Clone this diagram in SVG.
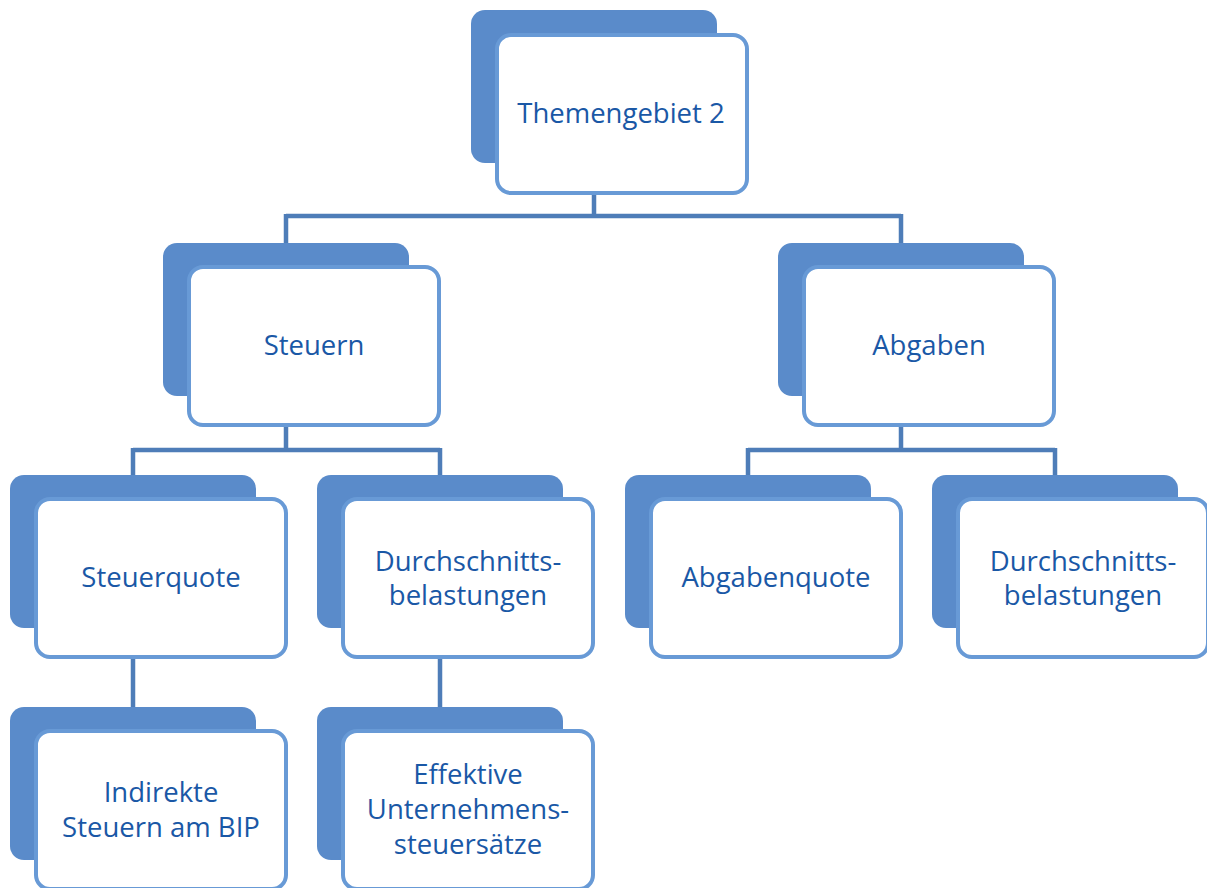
<svg xmlns="http://www.w3.org/2000/svg" width="1207" height="888" viewBox="0 0 1207 888">
<defs>
<style>
.back{fill:#5a8bca;}
.front{fill:#ffffff;stroke:#689ad6;stroke-width:4;}
.conn{fill:none;stroke:#4e7db8;stroke-width:4.5;}
.t{font-family:"Open Sans","Noto Sans","Liberation Sans",sans-serif;font-size:27.5px;fill:#1a58a6;text-anchor:middle;}
</style>
</defs>
<rect width="1207" height="888" fill="#ffffff"/>
<g id="connectors">
<path class="conn" d="M594 195V216M286 216H901M286 214V243M901 214V243"/>
<path class="conn" d="M286 427V450M133 450H440M133 448V475M440 448V475"/>
<path class="conn" d="M901 427V450M748 450H1055M748 448V475M1055 448V475"/>
<path class="conn" d="M133 659V707M440 659V707"/>
</g>
<g id="node-themengebiet">
<rect class="back" x="471" y="10" width="246" height="153" rx="14"/>
<rect class="front" x="497" y="35" width="250" height="158" rx="14"/>
<text class="t" x="621" y="123">Themengebiet 2</text>
</g>
<g id="node-steuern">
<rect class="back" x="163" y="243" width="246" height="153" rx="14"/>
<rect class="front" x="189" y="267" width="250" height="158" rx="14"/>
<text class="t" x="314" y="355">Steuern</text>
</g>
<g id="node-abgaben">
<rect class="back" x="778" y="243" width="246" height="153" rx="14"/>
<rect class="front" x="804" y="267" width="250" height="158" rx="14"/>
<text class="t" x="929" y="355">Abgaben</text>
</g>
<g id="node-steuerquote">
<rect class="back" x="10" y="475" width="246" height="153" rx="14"/>
<rect class="front" x="36" y="499" width="250" height="158" rx="14"/>
<text class="t" x="161" y="587">Steuerquote</text>
</g>
<g id="node-durchschnitt-steuern">
<rect class="back" x="317" y="475" width="246" height="153" rx="14"/>
<rect class="front" x="343" y="499" width="250" height="158" rx="14"/>
<text class="t" x="468" y="571">Durchschnitts-</text>
<text class="t" x="468" y="605">belastungen</text>
</g>
<g id="node-abgabenquote">
<rect class="back" x="625" y="475" width="246" height="153" rx="14"/>
<rect class="front" x="651" y="499" width="250" height="158" rx="14"/>
<text class="t" x="776" y="587">Abgabenquote</text>
</g>
<g id="node-durchschnitt-abgaben">
<rect class="back" x="932" y="475" width="246" height="153" rx="14"/>
<rect class="front" x="958" y="499" width="250" height="158" rx="14"/>
<text class="t" x="1083" y="571">Durchschnitts-</text>
<text class="t" x="1083" y="605">belastungen</text>
</g>
<g id="node-indirekte">
<rect class="back" x="10" y="707" width="246" height="153" rx="14"/>
<rect class="front" x="36" y="731" width="250" height="158" rx="14"/>
<text class="t" x="161" y="802">Indirekte</text>
<text class="t" x="161" y="837">Steuern am BIP</text>
</g>
<g id="node-effektive">
<rect class="back" x="317" y="707" width="246" height="153" rx="14"/>
<rect class="front" x="343" y="731" width="250" height="158" rx="14"/>
<text class="t" x="468" y="784">Effektive</text>
<text class="t" x="468" y="819">Unternehmens-</text>
<text class="t" x="468" y="854">steuersätze</text>
</g>
</svg>
